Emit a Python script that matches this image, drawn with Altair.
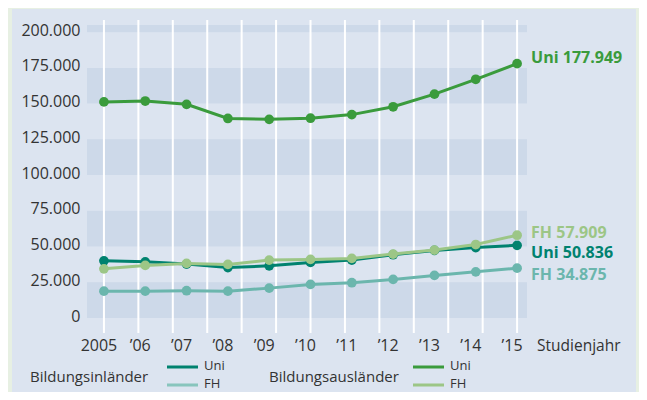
import altair as alt
import pandas as pd

years = list(range(2005, 2016))
year_labels = ["2005", "’06", "’07", "’08", "’09", "’10", "’11", "’12", "’13", "’14", "’15"]

uni_aus = [151.2, 151.8, 149.5, 139.6, 139.0, 139.8, 142.3, 147.8, 156.6, 167.0, 177.949]
fh_aus = [34.4, 36.8, 38.2, 37.5, 40.5, 41.0, 41.7, 44.7, 47.5, 51.4, 57.909]
uni_inl = [40.0, 39.3, 37.7, 35.3, 36.5, 38.9, 40.5, 44.3, 47.3, 49.3, 50.836]
fh_inl = [18.8, 18.8, 19.1, 18.8, 20.9, 23.5, 24.7, 27.0, 29.8, 32.3, 34.875]

series_names = ["FH Inl", "Uni Inl", "FH Aus", "Uni Aus"]
series_values = [fh_inl, uni_inl, fh_aus, uni_aus]
series_colors = ["#6bb6ad", "#00826f", "#9cc686", "#3a9b3c"]
end_labels = ["FH 34.875", "Uni 50.836", "FH 57.909", "Uni 177.949"]
end_dy = [7, 8, -2, -6]

band_lo = [0, 50, 100, 150, 200]
band_hi = [25, 75, 125, 175, 205]
y_ticks = [0, 25, 50, 75, 100, 125, 150, 175, 200]

grid_years = [2005 + i * 10 / 12 for i in range(13)]

W, H = 440, 293
FONT = "Open Sans"
TXT = "#333333"

xs = alt.Scale(domain=[2004.59, 2015.24], nice=False, zero=False)
ys = alt.Scale(domain=[0, 205], nice=False, zero=True)

y_axis = alt.Axis(values=y_ticks, title=None, grid=False, domain=False, ticks=False,
                  labelExpr="replace(format(datum.value*1000, ','), ',', '.')",
                  labelFont=FONT, labelFontSize=16, labelColor=TXT,
                  labelOverlap=False, labelFlush=False,
                  labelPadding=7, labelOffset=-2, zindex=2)

# panel background
panel = alt.Chart(pd.DataFrame({"a": [0]})).mark_rect(color="#dce4f0").encode(
    x=alt.value(-75), x2=alt.value(549), y=alt.value(-16), y2=alt.value(380)
)

bands = alt.Chart(pd.DataFrame({"lo": band_lo, "hi": band_hi})).mark_rect(color="#cdd9e9").encode(
    x=alt.value(0), x2=alt.value(W),
    y=alt.Y("lo:Q", scale=ys, axis=y_axis),
    y2="hi:Q",
)

grid = alt.Chart(pd.DataFrame({"g": grid_years})).mark_rule(color="white", strokeWidth=2).encode(
    x=alt.X("g:Q", scale=xs, axis=None),
    y=alt.value(-5), y2=alt.value(308),
)

layers = [panel, bands, grid]

for name, vals, col in zip(series_names, series_values, series_colors):
    df = pd.DataFrame({"year": years, "v": vals})
    line = alt.Chart(df).mark_line(color=col, strokeWidth=3,
                                   point=alt.OverlayMarkDef(filled=True, size=95, color=col, opacity=1)).encode(
        x=alt.X("year:Q", scale=xs, axis=None),
        y=alt.Y("v:Q", scale=ys, axis=y_axis),
    )
    layers.append(line)

for name, vals, col, lab, dy in zip(series_names, series_values, series_colors, end_labels, end_dy):
    df_end = pd.DataFrame({"year": [years[-1]], "v": [vals[-1]], "t": [lab]})
    txt = alt.Chart(df_end).mark_text(align="left", baseline="middle", dx=14, dy=dy,
                                      font=FONT, fontSize=16, fontWeight="bold", color=col).encode(
        x=alt.X("year:Q", scale=xs, axis=None), y=alt.Y("v:Q", scale=ys, axis=y_axis), text="t:N"
    )
    layers.append(txt)

xlab = alt.Chart(pd.DataFrame({"year": years, "t": year_labels})).mark_text(
    align="center", baseline="middle", dx=-5, font=FONT, fontSize=16, color=TXT
).encode(x=alt.X("year:Q", scale=xs, axis=None), y=alt.value(321), text="t:N")
layers.append(xlab)

studien = alt.Chart(pd.DataFrame({"t": ["Studienjahr"]})).mark_text(
    align="left", baseline="middle", font=FONT, fontSize=15.5, color=TXT
).encode(x=alt.value(450), y=alt.value(321), text="t:N")
layers.append(studien)

# custom legend
leg_titles = ["Bildungsinländer", "Bildungsausländer"]
leg_title_x = [-57, 182]
leg_line_x = [80, 326]
leg_colors = [["#00826f", "#88c5bd"], ["#3a9b3c", "#9cc686"]]
leg_entries = ["Uni", "FH"]
leg_row_y = [342, 360]

for t, tx, lx, cols in zip(leg_titles, leg_title_x, leg_line_x, leg_colors):
    layers.append(alt.Chart(pd.DataFrame({"t": [t]})).mark_text(
        align="left", baseline="middle", font=FONT, fontSize=15, color=TXT
    ).encode(x=alt.value(tx), y=alt.value(352), text="t:N"))
    for e, c, ry in zip(leg_entries, cols, leg_row_y):
        layers.append(alt.Chart(pd.DataFrame({"t": [e]})).mark_rule(color=c, strokeWidth=3).encode(
            x=alt.value(lx), x2=alt.value(lx + 31), y=alt.value(ry)))
        layers.append(alt.Chart(pd.DataFrame({"t": [e]})).mark_text(
            align="left", baseline="middle", font=FONT, fontSize=13, color=TXT
        ).encode(x=alt.value(lx + 37), y=alt.value(ry - 1), text="t:N"))

chart = alt.layer(*layers).properties(
    width=W, height=H,
    autosize=alt.AutoSizeParams(type="none"),
    padding={"left": 79, "top": 17, "right": 112, "bottom": 74},
    background="#e7f0e3",
).configure_view(stroke=None).configure_axisY(labelOverlap=False)

chart.save("out.html", embed_options={"renderer": "svg", "actions": False})
